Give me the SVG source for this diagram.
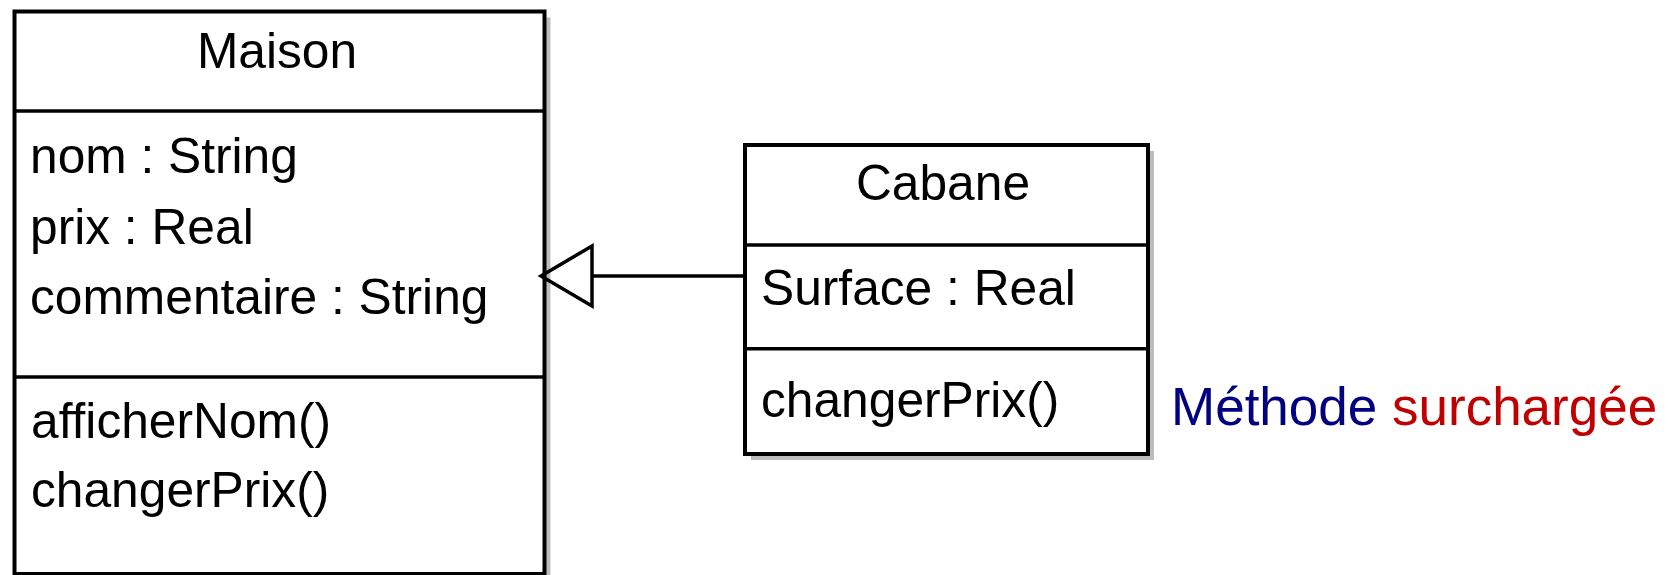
<svg xmlns="http://www.w3.org/2000/svg" width="1676" height="575" viewBox="0 0 1676 575">
<style>
  .shadow { fill: #bdbdbd; stroke: none; }
  .box { fill: #ffffff; stroke: #000000; stroke-width: 4; }
  .div { stroke: #000000; stroke-width: 3.5; }
  .t { font-family: "Liberation Sans", Arial, sans-serif; font-size: 49.7px; fill: #000000; }
  .title { text-anchor: middle; }
  .conn { stroke: #000000; stroke-width: 3.5; fill: none; }
  .note { font-family: "Liberation Sans", Arial, sans-serif; font-size: 53px; }
</style>
<rect width="1676" height="575" fill="#ffffff"/>
<g id="Maison">
  <rect class="shadow" x="20.5" y="17.5" width="530" height="562.5"/>
  <rect class="box" x="14.5" y="11.5" width="530" height="562.5"/>
  <line class="div" x1="14.5" y1="111" x2="544.5" y2="111"/>
  <line class="div" x1="14.5" y1="377" x2="544.5" y2="377"/>
  <text class="t title" x="277" y="68">Maison</text>
  <text class="t" x="30" y="172.5">nom : String</text>
  <text class="t" x="30" y="243.5">prix : Real</text>
  <text class="t" x="30" y="313.5">commentaire : String</text>
  <text class="t" x="31" y="438">afficherNom()</text>
  <text class="t" x="31" y="507">changerPrix()</text>
</g>
<g id="Cabane">
  <rect class="shadow" x="751" y="151" width="403" height="309"/>
  <rect class="box" x="745" y="145" width="403" height="309"/>
  <line class="div" x1="745" y1="245" x2="1148" y2="245" stroke-width="2.8"/>
  <line class="div" x1="745" y1="348.7" x2="1148" y2="348.7"/>
  <text class="t title" x="943" y="200">Cabane</text>
  <text class="t" x="761" y="305">Surface : Real</text>
  <text class="t" x="761" y="416.5">changerPrix()</text>
</g>
<g id="connectors">
  <line class="conn" x1="592" y1="276" x2="745" y2="276"/>
  <polygon class="conn" points="541,276 592,246 592,306" stroke-width="3" stroke-linejoin="miter"/>
</g>
<g id="note">
  <text class="note" x="1171" y="424.5"><tspan fill="#000080">Méthode</tspan> <tspan fill="#c00000">surchargée</tspan></text>
</g>
</svg>
